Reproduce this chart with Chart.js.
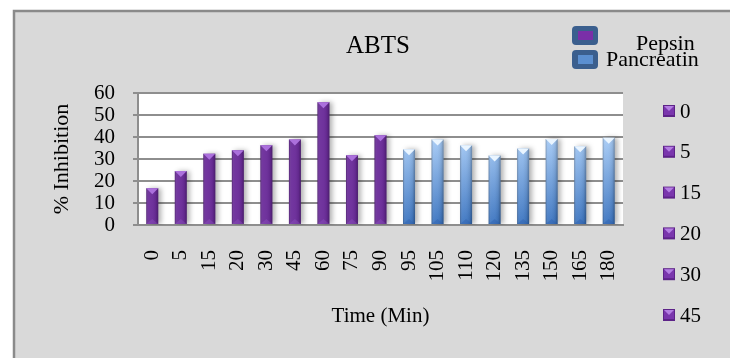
<!DOCTYPE html>
<html>
<head>
<meta charset="utf-8">
<title>ABTS</title>
<script src="https://cdn.jsdelivr.net/npm/chart.js@4/dist/chart.umd.min.js"></script>
<style>
  html, body { margin: 0; padding: 0; background: #fff; }
  canvas { display: block; }
</style>
</head>
<body>
<canvas id="chart" width="730" height="358"></canvas>
<script>
// data
var categories = ['0', '5', '15', '20', '30', '45', '60', '75', '90', '95', '105', '110', '120', '135', '150', '165', '180'];
var pepsin = [16.7, 24.5, 32.4, 34.0, 36.2, 38.9, 55.8, 31.7, 40.8, null, null, null, null, null, null, null, null];
var pancreatin = [null, null, null, null, null, null, null, null, null, 34.4, 38.9, 36.2, 31.6, 34.8, 39.1, 35.8, 39.7];
var seriesNames = ['Pepsin', 'Pancreatin'];
var yTicks = [0, 10, 20, 30, 40, 50, 60];
// the odd per-category legend on the right only shows the first few
var sideLegend = categories.slice(0, 6);

var FONT = 'Liberation Serif';
var GRID = '#8e8e8e';

// blue bars: light on top, darker at the base
function blueFill(c) {
  var chart = c.chart, a = chart.chartArea;
  if (!a) return '#6a9ee0';
  var g = chart.ctx.createLinearGradient(0, chart.scales.y.getPixelForValue(40), 0, a.bottom);
  g.addColorStop(0, '#a8ccf6');
  g.addColorStop(1, '#3a73bf');
  return g;
}

// background, frame, plot area
var backPlugin = {
  id: 'back',
  beforeDraw: function(chart) {
    var ctx = chart.ctx, a = chart.chartArea;
    ctx.save();
    ctx.fillStyle = '#fff';
    ctx.fillRect(0, 0, chart.width, chart.height);
    ctx.fillStyle = '#d9d9d9';
    ctx.fillRect(14, 11, chart.width, chart.height);
    ctx.strokeStyle = '#8a8a8a';
    ctx.lineWidth = 2.5;
    ctx.beginPath();
    ctx.moveTo(14, chart.height + 5);
    ctx.lineTo(14, 11);
    ctx.lineTo(chart.width + 5, 11);
    ctx.stroke();
    ctx.fillStyle = '#fff';
    ctx.fillRect(a.left, a.top, a.right - a.left, a.bottom - a.top);
    ctx.restore();
  }
};

// shadow behind the bars, shading and the little caps on top
var barLook = {
  id: 'barLook',
  beforeDatasetsDraw: function(chart) {
    var ctx = chart.ctx;
    ctx.save();
    ctx.shadowColor = 'rgba(0,0,0,0.3)';
    ctx.shadowBlur = 5;
    ctx.shadowOffsetX = 3;
    ctx.shadowOffsetY = 0;
  },
  afterDatasetsDraw: function(chart) {
    var ctx = chart.ctx;
    ctx.restore();
    chart.data.datasets.forEach(function(ds, di) {
      var meta = chart.getDatasetMeta(di);
      meta.data.forEach(function(el, i) {
        if (ds.data[i] == null) return;
        var p = el.getProps(['x', 'y', 'base', 'width'], true);
        var l = p.x - p.width / 2, r = p.x + p.width / 2;
        var g = ctx.createLinearGradient(l, 0, r, 0);
        g.addColorStop(0, 'rgba(0,0,0,0.28)');
        g.addColorStop(0.18, 'rgba(255,255,255,0.06)');
        g.addColorStop(0.45, 'rgba(255,255,255,0.04)');
        g.addColorStop(0.8, 'rgba(0,0,0,0.08)');
        g.addColorStop(1, 'rgba(0,0,0,0.3)');
        ctx.save();
        ctx.fillStyle = g;
        ctx.fillRect(l, p.y, p.width, p.base - p.y);
        // top cap
        ctx.fillStyle = di === 0 ? '#ab70dc' : '#eaf5ff';
        ctx.beginPath();
        ctx.moveTo(l, p.y);
        ctx.lineTo(r, p.y);
        ctx.lineTo(p.x, p.y + 6);
        ctx.closePath();
        ctx.fill();
        // faint base cap
        ctx.fillStyle = di === 0 ? 'rgba(150,90,200,0.35)' : 'rgba(40,90,170,0.35)';
        ctx.beginPath();
        ctx.moveTo(l, p.base);
        ctx.lineTo(r, p.base);
        ctx.lineTo(p.x, p.base - 5);
        ctx.closePath();
        ctx.fill();
        ctx.restore();
      });
    });
  }
};

function drawCapSquare(ctx, x, y, s) {
  ctx.fillStyle = '#5d2388';
  ctx.fillRect(x, y, s, s);
  ctx.fillStyle = '#7a36ad';
  ctx.fillRect(x + 1, y + 1, s - 2, s - 3);
  ctx.fillStyle = '#b47ee2';
  ctx.beginPath();
  ctx.moveTo(x + 1, y + 1);
  ctx.lineTo(x + s - 1, y + 1);
  ctx.lineTo(x + s / 2, y + s / 2);
  ctx.closePath();
  ctx.fill();
}

// title and the two legends
var textPlugin = {
  id: 'texts',
  afterDraw: function(chart) {
    var ctx = chart.ctx;
    ctx.save();
    ctx.fillStyle = '#000';
    ctx.textBaseline = 'alphabetic';
    ctx.textAlign = 'center';
    ctx.font = '25px "' + FONT + '"';
    ctx.fillText('ABTS', 378, 53);

    // series legend, top right
    var boxes = [{y: 26, inner: '#7a2fa8'}, {y: 50, inner: '#5b8fd0'}];
    boxes.forEach(function(b) {
      ctx.fillStyle = '#3b5f8e';
      ctx.beginPath();
      ctx.roundRect(572, b.y, 26, 19, 4);
      ctx.fill();
      ctx.fillStyle = b.inner;
      ctx.fillRect(578, b.y + 5, 15, 9);
    });
    ctx.fillStyle = '#000';
    ctx.textAlign = 'left';
    ctx.font = '22px "' + FONT + '"';
    ctx.fillText(seriesNames[0], 636, 50);
    ctx.fillText(seriesNames[1], 606, 66);

    // category legend, right side
    ctx.font = '21px "' + FONT + '"';
    ctx.textBaseline = 'middle';
    sideLegend.forEach(function(t, i) {
      var cy = 111 + i * 40.8;
      drawCapSquare(ctx, 663, cy - 6, 12);
      ctx.fillStyle = '#000';
      ctx.fillText(t, 680, cy + 1);
    });
    ctx.restore();
  }
};

new Chart(document.getElementById('chart'), {
  type: 'bar',
  data: {
    labels: categories,
    datasets: [
      { label: seriesNames[0], data: pepsin, backgroundColor: '#6a2b99', grouped: false },
      { label: seriesNames[1], data: pancreatin, backgroundColor: blueFill, grouped: false }
    ]
  },
  options: {
    responsive: false,
    animation: false,
    events: [],
    barPercentage: 0.42,
    categoryPercentage: 1,
    layout: { padding: { left: 0, top: 93, right: 107, bottom: 0 } },
    plugins: {
      legend: { display: false },
      tooltip: { enabled: false }
    },
    scales: {
      x: {
        grid: { display: false, drawTicks: false },
        border: { display: true, color: GRID, width: 2 },
        ticks: {
          minRotation: 90, maxRotation: 90, padding: 25, autoSkip: false,
          color: '#000', font: { family: FONT, size: 21 }
        },
        title: {
          display: true, text: 'Time (Min)', color: '#000',
          font: { family: FONT, size: 21 }, padding: { top: 0, bottom: 29 }
        },
        afterFit: function(s) { s.height = 133; }
      },
      y: {
        min: 0, max: 60,
        afterBuildTicks: function(s) { s.ticks = yTicks.map(function(v) { return { value: v }; }); },
        grid: { color: GRID, lineWidth: 2, tickLength: 5 },
        border: { color: GRID, width: 2 },
        ticks: { stepSize: 10, autoSkip: false, padding: 18, color: '#000', font: { family: FONT, size: 21 } },
        title: {
          display: true, text: '% Inhibition', color: '#000',
          font: { family: FONT, size: 22 }, padding: { top: 49, bottom: 0 }
        },
        afterFit: function(s) { s.width = 138; }
      }
    }
  },
  plugins: [backPlugin, barLook, textPlugin]
});
</script>
</body>
</html>
